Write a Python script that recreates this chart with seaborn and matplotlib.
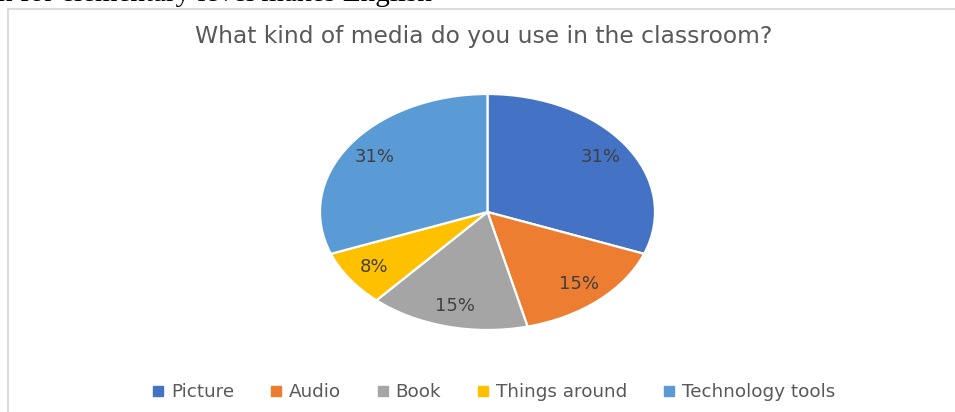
import matplotlib
matplotlib.use("Agg")
import matplotlib.pyplot as plt
from matplotlib.lines import Line2D
import seaborn as sns

# ---- data ----
categories = ["Picture", "Audio", "Book", "Things around", "Technology tools"]
counts = [4, 2, 2, 1, 4]
colors = ["#4472C4", "#ED7D31", "#A5A5A5", "#FFC000", "#5B9BD5"]
title = "What kind of media do you use in the classroom?"
doc_text = "n for elementary level makes English"

sns.set_theme(style="white")
plt.rcParams["font.family"] = ["DejaVu Sans"]
palette = sns.color_palette(colors)

W, H = 955, 412
fig = plt.figure(figsize=(W / 100, H / 100), dpi=100)
fig.patch.set_facecolor("white")

# pie axes (elliptical pie: horizontally stretched)
cx, cy = 487.5, 212.0          # centre in px from top-left
rx, ry = 167.5, 118.0          # radii in px
lim = 1.2
ax = fig.add_axes([(cx - lim * rx) / W, (H - cy - lim * ry) / H,
                   2 * lim * rx / W, 2 * lim * ry / H])
wedges, texts, autotexts = ax.pie(
    counts, colors=palette, startangle=90, counterclock=False,
    autopct=lambda p: f"{p:.0f}%", pctdistance=0.82,
    wedgeprops=dict(edgecolor="white", linewidth=1.6),
    textprops=dict(color="#404040", fontsize=13))
ax.set_aspect("auto")
ax.set_xlim(-lim, lim)
ax.set_ylim(-lim, lim)
ax.axis("off")

# title
fig.text(484 / W, 1 - 36 / H, title, ha="center", va="center",
         fontsize=16.8, color="#595959")

# legend
handles = [Line2D([0], [0], marker="s", linestyle="none", markersize=7,
                  markerfacecolor=c, markeredgecolor=c) for c in palette]
fig.legend(handles, categories, loc="center", bbox_to_anchor=(493 / W, 1 - 392 / H),
           ncol=5, frameon=False, fontsize=13.2, labelcolor="#595959",
           handlelength=0.8, handletextpad=0.3, columnspacing=1.88,
           borderpad=0, borderaxespad=0)

# chart area border (continues beyond right/bottom edges)
bc = "#D9D9D9"
fig.add_artist(Line2D([7.5 / W, 7.5 / W], [1 - 9 / H, -0.05], color=bc,
                      linewidth=1.3, transform=fig.transFigure))
fig.add_artist(Line2D([7.5 / W, 1.05], [1 - 9 / H, 1 - 9 / H], color=bc,
                      linewidth=1.3, transform=fig.transFigure))

# clipped document text above the chart (cut off in the reference as well)
fig.text(-2 / W, 1 - 1.0 / H, doc_text, ha="left", va="baseline",
         fontsize=21, family="Liberation Serif", color="black")

fig.savefig("out.png", dpi=100, facecolor="white")
